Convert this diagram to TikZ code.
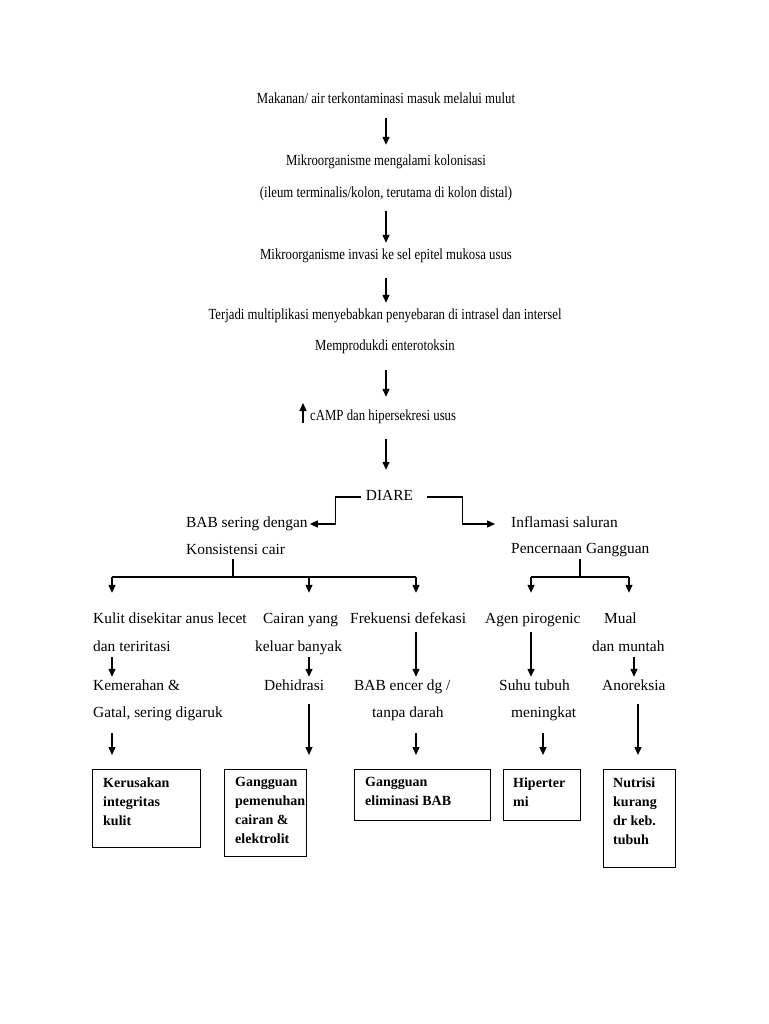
\documentclass[tikz,border=0pt]{standalone}
\usepackage{fontspec}
\setmainfont{Liberation Serif}
\newfontfamily\condfont{Liberation Serif}[FakeStretch=0.83]
\usetikzlibrary{arrows.meta,calc}
\tikzset{
  txt/.style={inner sep=0pt, text height=10.5pt, text depth=3.5pt, font=\fontsize{15.4}{18}\selectfont},
  cond/.style={inner sep=0pt, text height=10.5pt, text depth=3.5pt, font=\condfont\fontsize{15.4}{18}\selectfont},
  lt/.style={txt, anchor=west},
  boxshape/.style={draw, line width=1.3pt, anchor=north west, inner sep=0pt},
  boxtext/.style={anchor=north west, inner sep=0pt, align=left, font=\bfseries\fontsize{14}{19}\selectfont},
  ln/.style={line width=1.3pt},
  arr/.style={line width=1.3pt, -{Triangle[length=8pt,width=7pt]}},
}
\begin{document}
\begin{tikzpicture}[x=1pt,y=-1pt]
\fill[white] (0,0) rectangle (768,1024);
\useasboundingbox (0,0) rectangle (768,1024);

% column coordinates
\coordinate (xT) at (386,0);
\coordinate (xA) at (112,0);
\coordinate (xC) at (309,0);
\coordinate (xF) at (416,0);
\coordinate (xG) at (531,0);
\coordinate (xH) at (543,0);
\coordinate (xM) at (629,0);
\coordinate (xN) at (634,0);
\coordinate (xO) at (638,0);
\coordinate (jL) at (233,577);
\coordinate (jR) at (580,577);

% top chain
\node[cond] (t1) at (386,100) {Makanan/ air terkontaminasi masuk melalui mulut};
\node[cond] (t2) at (386,162) {Mikroorganisme mengalami kolonisasi};
\node[cond] (t3) at (386,194) {(ileum terminalis/kolon, terutama di kolon distal)};
\node[cond] (t4) at (386,256) {Mikroorganisme invasi ke sel epitel mukosa usus};
\node[cond] (t5) at (385,316) {Terjadi multiplikasi menyebabkan penyebaran di intrasel dan intersel};
\node[cond] (t6) at (385,347) {Memprodukdi enterotoksin};
\node[cond, anchor=west] (t7) at (310,417) {cAMP dan hipersekresi usus};
\node[txt] (diare) at (389.5,497) {DIARE};

\draw[arr] ([yshift=-11pt]t1.south) -- ([yshift=10pt]t2.north);
\draw[arr] ([yshift=-10pt]t3.south) -- ([yshift=6pt]t4.north);
\draw[arr] ([yshift=-15pt]t4.south) -- ([yshift=6pt]t5.north -| xT);
\draw[arr] ([yshift=-16pt]t6.south -| xT) -- ([yshift=13pt]t7.north -| xT);
\coordinate (upS) at ([shift={(-7pt,-6pt)}]t7.west);
\coordinate (upE) at ([shift={(-7pt,14pt)}]t7.west);
\draw[arr] (upS) -- (upE);
\draw[arr] ([yshift=-15pt]t7.south -| xT) -- ([yshift=20pt]diare.north -| xT);

% two branches
\node[lt] (bab1) at (186,524) {BAB sering dengan};
\node[lt] (bab2) at (186,551) {Konsistensi cair};
\node[lt] (inf1) at (511,524) {Inflamasi saluran};
\node[lt] (inf2) at (511,550) {Pencernaan Gangguan};

\draw[arr] ([xshift=-5pt]diare.west) -- ++(-25,0) |- ([xshift=2pt]bab1.east);
\draw[arr] ([xshift=14pt]diare.east) -- ++(35,0) |- ([xshift=-16pt]inf1.west);

% buses
\draw[ln] ([yshift=-1pt]bab2.south -| jL) -- (jL);
\draw[ln] (jL -| xA) -- (jL -| xF);
\draw[ln] ([yshift=-2pt]inf2.south -| jR) -- (jR);
\draw[ln] (jR -| xG) -- (jR -| xM);

% row texts
\node[lt] (k1) at (93,620) {Kulit disekitar anus lecet};
\node[lt] (k2) at (93,648) {dan teriritasi};
\node[lt] (k3) at (93,687) {Kemerahan \&};
\node[lt] (k4) at (93,714) {Gatal, sering digaruk};
\node[lt] (c1) at (263,620) {Cairan yang};
\node[lt] (c2) at (255,648) {keluar banyak};
\node[lt] (c3) at (264,687) {Dehidrasi};
\node[lt] (f1) at (350,620) {Frekuensi defekasi};
\node[lt] (f3) at (354,687) {BAB encer dg /};
\node[lt] (f4) at (372,714) {tanpa darah};
\node[lt] (a1) at (485,620) {Agen pirogenic};
\node[lt] (a3) at (499,687) {Suhu tubuh};
\node[lt] (a4) at (511,714) {meningkat};
\node[lt] (m1) at (604,620) {Mual};
\node[lt] (m2) at (592,648) {dan muntah};
\node[lt] (m3) at (602,687) {Anoreksia};

% bus arrows
\draw[arr] (jL -| xA) -- ([yshift=20pt]k1.north -| xA);
\draw[arr] (jL -| xC) -- ([yshift=20pt]c1.north -| xC);
\draw[arr] (jL -| xF) -- ([yshift=20pt]f1.north -| xF);
\draw[arr] (jR -| xG) -- ([yshift=20pt]a1.north -| xG);
\draw[arr] (jR -| xM) -- ([yshift=20pt]m1.north -| xM);

% row arrows
\draw[arr] ([yshift=-2pt]k2.south -| xA) -- ([yshift=3pt]k3.north -| xA);
\draw[arr] ([yshift=-2pt]c2.south -| xC) -- ([yshift=3pt]c3.north -| xC);
\draw[arr] ([yshift=-5pt]f1.south -| xF) -- ([yshift=3pt]f3.north -| xF);
\draw[arr] ([yshift=-5pt]a1.south -| xG) -- ([yshift=3pt]a3.north -| xG);
\draw[arr] ([yshift=-2pt]m2.south -| xN) -- ([yshift=3pt]m3.north -| xN);

% boxes
\node[boxshape, minimum width=108pt, minimum height=78pt] (b1) at (92,769) {};
\node[boxshape, minimum width=82pt, minimum height=87pt] (b2) at (224,769) {};
\node[boxshape, minimum width=136pt, minimum height=51pt] (b3) at (354,769) {};
\node[boxshape, minimum width=77pt, minimum height=51pt] (b4) at (503,769) {};
\node[boxshape, minimum width=72pt, minimum height=98pt] (b5) at (603,769) {};
\node[boxtext] (b1t) at (103,777.5) {Kerusakan\\integritas\\kulit};
\node[boxtext] (b2t) at (235,777.5) {Gangguan\\pemenuhan\\cairan \&\\elektrolit};
\node[boxtext] (b3t) at (365,777.5) {Gangguan\\eliminasi BAB};
\node[boxtext] (b4t) at (513,777.5) {Hiperter\\mi};
\node[boxtext] (b5t) at (613,777.5) {Nutrisi\\kurang\\dr keb.\\tubuh};

\draw[arr] ([yshift=-12pt]k4.south -| xA) -- ([yshift=14pt]b1.north -| xA);
\draw[arr] ([yshift=-10pt]c3.south -| xC) -- ([yshift=14pt]b2.north -| xC);
\draw[arr] ([yshift=-12pt]f4.south -| xF) -- ([yshift=14pt]b3.north -| xF);
\draw[arr] ([yshift=-12pt]a4.south -| xH) -- ([yshift=14pt]b4.north -| xH);
\draw[arr] ([yshift=-10pt]m3.south -| xO) -- ([yshift=14pt]b5.north -| xO);
\end{tikzpicture}
\end{document}
